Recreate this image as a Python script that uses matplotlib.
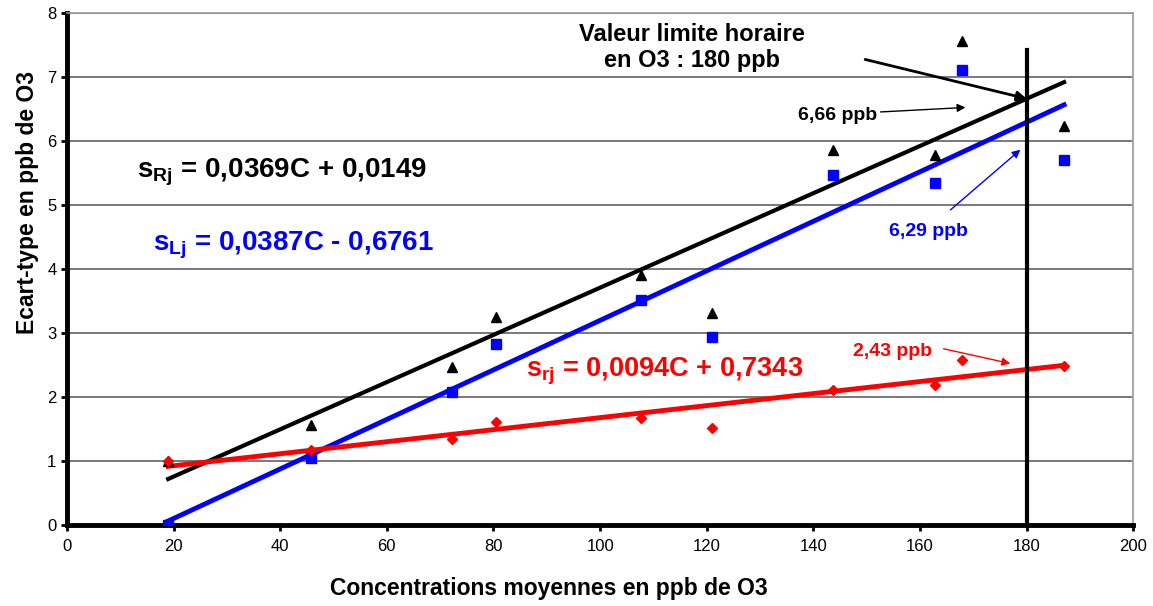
import numpy as np
import matplotlib
matplotlib.use("Agg")
import matplotlib.pyplot as plt

plt.rcParams["font.family"] = ["Liberation Sans", "DejaVu Sans"]
plt.rcParams["mathtext.fontset"] = "custom"
plt.rcParams["mathtext.rm"] = "Liberation Sans"
plt.rcParams["mathtext.bf"] = "Liberation Sans:bold"
plt.rcParams["mathtext.it"] = "Liberation Sans:italic"

# mean concentrations (ppb O3)
conc = [19.0, 45.7, 72.2, 80.5, 107.6, 121.0, 143.6, 162.8, 167.8, 187.0]
# standard deviations
s_R = [0.99, 1.56, 2.47, 3.24, 3.90, 3.31, 5.85, 5.78, 7.56, 6.23]
s_L = [0.00, 1.04, 2.08, 2.82, 3.51, 2.93, 5.47, 5.34, 7.10, 5.70]
s_r = [1.00, 1.17, 1.34, 1.60, 1.67, 1.52, 2.10, 2.19, 2.57, 2.48]

# trend line coefficients (as printed on the chart)
fit_R = (0.0369, 0.0149)
fit_L = (0.0387, -0.6761)
fit_r = (0.0094, 0.7343)

limit = 180
xticks = list(range(0, 201, 20))
yticks = list(range(0, 9))

fig = plt.figure(figsize=(11.53, 6.06), dpi=100)
ax = fig.add_axes([0.058, 0.134, 0.925, 0.845])

for y in yticks[1:]:
    ax.axhline(y, color="#555555", lw=1.1, zorder=1)

xs = np.array([min(conc), max(conc)])
ax.plot(xs, fit_R[0] * xs + fit_R[1], color="black", lw=3, zorder=3)
ax.plot(xs, fit_L[0] * xs + fit_L[1], color="#0000ff", lw=3.5, zorder=3)
ax.plot(xs, fit_r[0] * xs + fit_r[1], color="#ff0000", lw=3.5, zorder=3)

ax.plot(conc, s_R, "^", color="black", ms=7, ls="none", zorder=4)
ax.plot(conc, s_L, "s", color="#0000ff", ms=7, ls="none", zorder=4)
ax.plot(conc, s_r, "D", color="#ff0000", ms=5.5, ls="none", zorder=4)

# limit value line
ax.plot([limit, limit], [0, 7.42], color="black", lw=3, zorder=5)

ax.set_xlim(0, 200)
ax.set_ylim(0, 8)
ax.set_xticks(xticks)
ax.set_yticks(yticks)
ax.tick_params(axis="both", labelsize=12, direction="out", length=4, width=2)
ax.tick_params(axis="x", pad=6)

for side in ["left", "bottom"]:
    ax.spines[side].set_linewidth(3.5)
    ax.spines[side].set_color("black")
for side in ["top", "right"]:
    ax.spines[side].set_linewidth(1.2)
    ax.spines[side].set_color("#999999")

ax.set_ylabel("Ecart-type en ppb de O3", fontsize=16.5, fontweight="bold")
ax.yaxis.set_label_coords(-0.026, 0.629)
fig.text(0.476, 0.01, "Concentrations moyennes en ppb de O3", fontsize=16.5,
         fontweight="bold", ha="center", va="bottom")

# equations
ax.text(13.1, 5.5, r"$\mathbf{s_{Rj}}$ = 0,0369C + 0,0149", fontsize=20,
        fontweight="bold", color="black", va="center")
ax.text(16.1, 4.37, r"$\mathbf{s_{Lj}}$ = 0,0387C - 0,6761", fontsize=20,
        fontweight="bold", color="#0000ff", va="center")
ax.text(86.1, 2.39, r"$\mathbf{s_{rj}}$ = 0,0094C + 0,7343", fontsize=19.5,
        fontweight="bold", color="#ff0000", va="center")

ax.text(117.3, 7.46, "Valeur limite horaire\nen O3 : 180 ppb", fontsize=17,
        fontweight="bold", ha="center", va="center", linespacing=1.15)
ax.annotate("", xy=(180, fit_R[0] * 180 + fit_R[1]), xytext=(149.7, 7.27),
            arrowprops=dict(arrowstyle="-|>", color="black", lw=2,
                            mutation_scale=14, shrinkA=0, shrinkB=0), zorder=6)

ax.text(144.6, 6.39, "6,66 ppb", fontsize=14, fontweight="bold", ha="center",
        va="center")
ax.annotate("", xy=(168.5, 6.52), xytext=(152.6, 6.45),
            arrowprops=dict(arrowstyle="-|>", color="black", lw=1,
                            mutation_scale=12, shrinkA=0, shrinkB=0))

ax.text(161.5, 4.58, "6,29 ppb", fontsize=14, fontweight="bold", ha="center",
        va="center", color="#0000ff")
ax.annotate("", xy=(178.8, 5.86), xytext=(165.7, 4.92),
            arrowprops=dict(arrowstyle="-|>", color="#0000ff", lw=1,
                            mutation_scale=12, shrinkA=0, shrinkB=0))

ax.text(154.8, 2.70, "2,43 ppb", fontsize=14, fontweight="bold", ha="center",
        va="center", color="#ff0000")
ax.annotate("", xy=(176.9, 2.52), xytext=(164.4, 2.75),
            arrowprops=dict(arrowstyle="-|>", color="#ff0000", lw=1,
                            mutation_scale=12, shrinkA=0, shrinkB=0))

fig.savefig("out.png", dpi=100)
